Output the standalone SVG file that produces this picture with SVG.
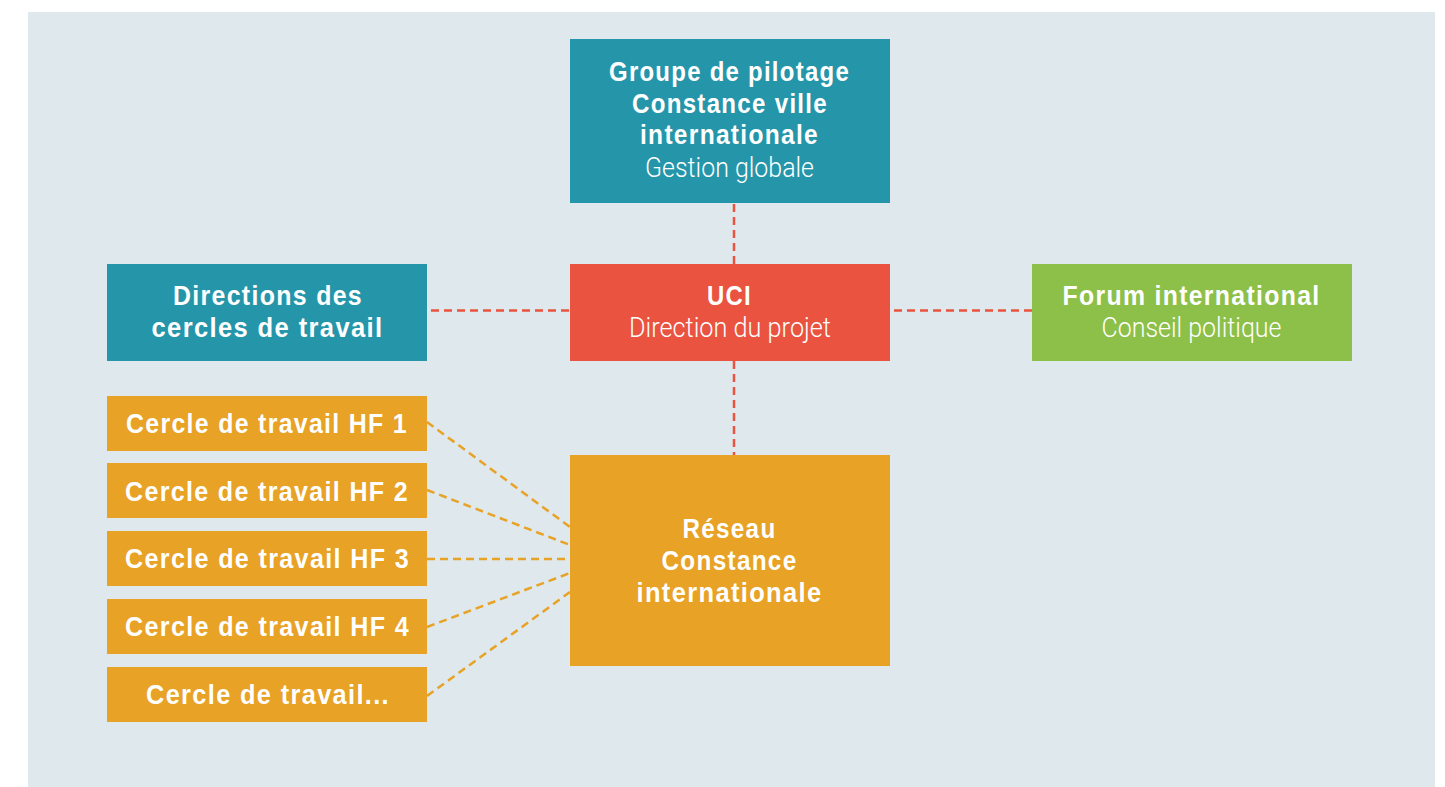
<svg xmlns="http://www.w3.org/2000/svg" width="1445" height="787" viewBox="0 0 1445 787">
<style>
.teal{fill:#2596AA}
.red{fill:#E9533F}
.green{fill:#8DC049}
.orange{fill:#E8A225}
text{fill:#FFFFFF;text-anchor:middle}
.b{font-family:"Liberation Sans",Arial,sans-serif;font-weight:700;font-size:28px;letter-spacing:1.5px}
.l{font-family:Roboto,"Liberation Sans",Arial,sans-serif;font-weight:300;font-size:27px}
.dr{stroke:#E9533F;stroke-width:2.5;stroke-dasharray:8 5;fill:none}
.do{stroke:#E8A225;stroke-width:2.5;stroke-dasharray:8 5;fill:none}
</style>
<rect width="1445" height="787" fill="#FFFFFF"/>
<rect x="28" y="12" width="1407" height="775" fill="#DEE8ED"/>
<g id="connectors">
<line class="dr" x1="734" y1="204" x2="734" y2="264"/>
<line class="dr" x1="734" y1="361" x2="734" y2="455"/>
<line class="dr" x1="431" y1="310.5" x2="570" y2="310.5"/>
<line class="dr" x1="894" y1="310.5" x2="1032" y2="310.5"/>
<line class="do" x1="427" y1="422" x2="570" y2="527"/>
<line class="do" x1="427" y1="490" x2="570" y2="545"/>
<line class="do" x1="427" y1="559" x2="570" y2="559"/>
<line class="do" x1="427" y1="627" x2="570" y2="573"/>
<line class="do" x1="427" y1="696" x2="570" y2="592"/>
</g>
<g id="groupe-pilotage">
<rect class="teal" x="570" y="39" width="320" height="164"/>
<text class="b" x="729.5" y="81" textLength="241" lengthAdjust="spacingAndGlyphs">Groupe de pilotage</text>
<text class="b" x="730" y="112.5" textLength="196" lengthAdjust="spacingAndGlyphs">Constance ville</text>
<text class="b" x="729.5" y="143.5" textLength="179" lengthAdjust="spacingAndGlyphs">internationale</text>
<text class="l" x="729.5" y="176.5" textLength="169" lengthAdjust="spacingAndGlyphs">Gestion globale</text>
</g>
<g id="uci">
<rect class="red" x="570" y="264" width="320" height="97"/>
<text class="b" x="729.5" y="305" textLength="45" lengthAdjust="spacingAndGlyphs">UCI</text>
<text class="l" x="730" y="336.5" textLength="202" lengthAdjust="spacingAndGlyphs">Direction du projet</text>
</g>
<g id="directions">
<rect class="teal" x="107" y="264" width="320" height="97"/>
<text class="b" x="268" y="305" textLength="190" lengthAdjust="spacingAndGlyphs">Directions des</text>
<text class="b" x="267.5" y="336.5" textLength="232" lengthAdjust="spacingAndGlyphs">cercles de travail</text>
</g>
<g id="forum">
<rect class="green" x="1032" y="264" width="320" height="97"/>
<text class="b" x="1191.5" y="305" textLength="258" lengthAdjust="spacingAndGlyphs">Forum international</text>
<text class="l" x="1191.5" y="336.5" textLength="180" lengthAdjust="spacingAndGlyphs">Conseil politique</text>
</g>
<g id="cercle-hf1">
<rect class="orange" x="107" y="396" width="320" height="55"/>
<text class="b" x="267" y="433" textLength="282" lengthAdjust="spacingAndGlyphs">Cercle de travail HF 1</text>
</g>
<g id="cercle-hf2">
<rect class="orange" x="107" y="463" width="320" height="55"/>
<text class="b" x="267" y="500.5" textLength="284" lengthAdjust="spacingAndGlyphs">Cercle de travail HF 2</text>
</g>
<g id="cercle-hf3">
<rect class="orange" x="107" y="531" width="320" height="55"/>
<text class="b" x="267.5" y="568" textLength="285" lengthAdjust="spacingAndGlyphs">Cercle de travail HF 3</text>
</g>
<g id="cercle-hf4">
<rect class="orange" x="107" y="599" width="320" height="55"/>
<text class="b" x="267.5" y="636" textLength="285" lengthAdjust="spacingAndGlyphs">Cercle de travail HF 4</text>
</g>
<g id="cercle-etc">
<rect class="orange" x="107" y="667" width="320" height="55"/>
<text class="b" x="268" y="704" textLength="244" lengthAdjust="spacingAndGlyphs">Cercle de travail...</text>
</g>
<g id="reseau">
<rect class="orange" x="570" y="455" width="320" height="211"/>
<text class="b" x="729.5" y="537.5" textLength="94" lengthAdjust="spacingAndGlyphs">Réseau</text>
<text class="b" x="729.5" y="569.5" textLength="136" lengthAdjust="spacingAndGlyphs">Constance</text>
<text class="b" x="729.5" y="601.5" textLength="186" lengthAdjust="spacingAndGlyphs">internationale</text>
</g>
</svg>
